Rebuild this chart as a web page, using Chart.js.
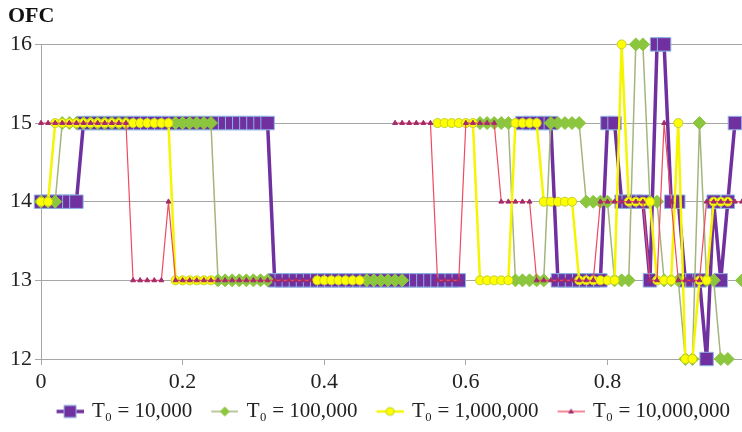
<!DOCTYPE html>
<html>
<head>
<meta charset="utf-8">
<script src="https://cdn.jsdelivr.net/npm/chart.js@4"></script>
<style>
  html, body { margin: 0; padding: 0; background: #fff; }
  #wrap { width: 742px; height: 432px; }
</style>
</head>
<body>
<div id="wrap"><canvas id="ofcChart" width="742" height="432"></canvas></div>
<script>
// x positions of the samples
const xValues = [
  0.00, 0.01, 0.02, 0.03, 0.04, 0.05, 0.06, 0.07, 0.08, 0.09,
  0.10, 0.11, 0.12, 0.13, 0.14, 0.15, 0.16, 0.17, 0.18, 0.19,
  0.20, 0.21, 0.22, 0.23, 0.24, 0.25, 0.26, 0.27, 0.28, 0.29,
  0.30, 0.31, 0.32, 0.33, 0.34, 0.35, 0.36, 0.37, 0.38, 0.39,
  0.40, 0.41, 0.42, 0.43, 0.44, 0.45, 0.46, 0.47, 0.48, 0.49,
  0.50, 0.51, 0.52, 0.53, 0.54, 0.55, 0.56, 0.57, 0.58, 0.59,
  0.60, 0.61, 0.62, 0.63, 0.64, 0.65, 0.66, 0.67, 0.68, 0.69,
  0.70, 0.71, 0.72, 0.73, 0.74, 0.75, 0.76, 0.77, 0.78, 0.79,
  0.80, 0.81, 0.82, 0.83, 0.84, 0.85, 0.86, 0.87, 0.88, 0.89,
  0.90, 0.91, 0.92, 0.93, 0.94, 0.95, 0.96, 0.97, 0.98, 0.99
];

const ofcT10k = [
  14, 14, 14, 14, 14, 14, 15, 15, 15, 15,
  15, 15, 15, 15, 15, 15, 15, 15, 15, 15,
  15, 15, 15, 15, 15, 15, 15, 15, 15, 15,
  15, 15, 15, 13, 13, 13, 13, 13, 13, 13,
  13, 13, 13, 13, 13, 13, 13, 13, 13, 13,
  13, 13, 13, 13, 13, 13, 13, 13, 13, 13,
  null, null, null, null, null, null, null, null, 15, 15,
  15, 15, 15, 13, 13, 13, 13, 13, 13, 13,
  15, 15, 14, 14, 14, 14, 13, 16, 16, 14,
  14, 13, 13, 13, 12, 14, 13, 14, 15, null
];

const ofcT100k = [
  14, 14, 14, 15, 15, 15, 15, 15, 15, 15,
  15, 15, 15, null, null, null, null, null, null, 15,
  15, 15, 15, 15, 15, 13, 13, 13, 13, 13,
  13, 13, 13, null, null, null, null, null, null, null,
  null, null, null, null, null, null, 13, 13, 13, 13,
  13, 13, null, null, null, null, null, null, null, null,
  null, null, 15, 15, 15, 15, 15, 13, 13, 13,
  13, 13, 15, 15, 15, 15, 15, 14, 14, 14,
  14, 13, 13, 13, 16, 16, 14, 14, 13, 13,
  13, 12, 12, 15, 13, 13, 12, 12, null, 13
];

const ofcT1m = [
  14, 14, 15, 15, 15, 15, 15, 15, 15, 15,
  15, 15, 15, 15, 15, 15, 15, 15, 15, 13,
  13, 13, 13, 13, 13, null, null, null, null, null,
  null, null, null, null, null, null, null, null, null, 13,
  13, 13, 13, 13, 13, 13, null, null, null, null,
  null, null, null, null, null, null, 15, 15, 15, 15,
  15, 15, 13, 13, 13, 13, 13, 15, 15, 15,
  15, 14, 14, 14, 14, 14, 13, 13, 13, 13,
  13, 13, 16, 14, 14, 14, 14, 13, 13, 13,
  15, 12, 12, 13, 13, 14, 14, 14, null, null
];

const ofcT10m = [
  15, 15, 15, 15, 15, 15, 15, 15, 15, 15,
  15, 15, 15, 13, 13, 13, 13, 13, 14, 13,
  13, 13, 13, 13, 13, 13, 13, 13, 13, 13,
  13, 13, 13, 13, 13, 13, 13, 13, 13, null,
  null, null, null, null, null, null, null, null, null, null,
  15, 15, 15, 15, 15, 15, 13, 13, 13, 13,
  15, 15, 15, 15, 15, 14, 14, 14, 14, 14,
  13, 13, 13, 13, 13, 13, 13, 13, 13, 14,
  14, 14, 14, 14, 14, 14, 13, 13, 15, 14,
  13, 13, 13, 13, 14, 14, 14, 14, 14, 14
];

const seriesNames = ['T\u2080 = 10,000', 'T\u2080 = 100,000', 'T\u2080 = 1,000,000', 'T\u2080 = 10,000,000'];
const yTicks = [12, 13, 14, 15, 16];

const serif = "'Liberation Serif', 'Times New Roman', serif";

// legend icons: a short line with the marker in the middle, like the Excel legend
function makeIcon(lineColor, lineWidth, drawMarker) {
  const c = document.createElement('canvas');
  c.width = 36;
  c.height = 20;
  const g = c.getContext('2d');
  g.strokeStyle = lineColor;
  g.lineWidth = lineWidth;
  g.beginPath();
  g.moveTo(9, 10);
  g.lineTo(36, 10);
  g.stroke();
  drawMarker(g, 22.5, 10);
  return c;
}

const icons = [
  makeIcon('#7030a0', 3.5, (g, x, y) => {
    g.fillStyle = '#7030a0';
    g.fillRect(x - 6, y - 6, 12, 12);
    g.strokeStyle = '#8eb4e3';
    g.lineWidth = 1;
    g.strokeRect(x - 6, y - 6, 12, 12);
  }),
  makeIcon('#a4b57c', 1.5, (g, x, y) => {
    g.fillStyle = '#8cc63f';
    g.beginPath();
    g.moveTo(x - 5, y); g.lineTo(x, y - 5); g.lineTo(x + 5, y); g.lineTo(x, y + 5);
    g.closePath();
    g.fill();
  }),
  makeIcon('#f5f500', 2.5, (g, x, y) => {
    g.fillStyle = '#ffff00';
    g.strokeStyle = '#c3cf2a';
    g.lineWidth = 1;
    g.beginPath();
    g.arc(x, y, 4, 0, Math.PI * 2);
    g.fill();
    g.stroke();
  }),
  makeIcon('#ee4a60', 1.3, (g, x, y) => {
    g.fillStyle = '#a02c6c';
    g.beginPath();
    g.moveTo(x, y - 3); g.lineTo(x + 3, y + 2); g.lineTo(x - 3, y + 2);
    g.closePath();
    g.fill();
  })
];

const toPoints = ys => ys.map((y, i) => ({ x: xValues[i], y: y }));

new Chart(document.getElementById('ofcChart'), {
  type: 'line',
  data: {
    datasets: [{
      label: seriesNames[0],
      data: toPoints(ofcT10k),
      borderColor: '#7030a0',
      borderWidth: 3.5,
      pointStyle: 'rect',
      pointRadius: 9.5,
      pointBackgroundColor: '#7030a0',
      pointBorderColor: '#8eb4e3',
      pointBorderWidth: 1,
      order: 4
    }, {
      label: seriesNames[1],
      data: toPoints(ofcT100k),
      borderColor: '#a4b57c',
      borderWidth: 1.5,
      pointStyle: 'rectRot',
      pointRadius: 6.5,
      pointBackgroundColor: '#8cc63f',
      pointBorderColor: '#8cc63f',
      pointBorderWidth: 1,
      order: 3
    }, {
      label: seriesNames[2],
      data: toPoints(ofcT1m),
      borderColor: '#f5f500',
      borderWidth: 2.5,
      pointStyle: 'circle',
      pointRadius: 4.5,
      pointBackgroundColor: '#ffff00',
      pointBorderColor: '#c3cf2a',
      pointBorderWidth: 1,
      order: 2
    }, {
      label: seriesNames[3],
      data: toPoints(ofcT10m),
      borderColor: '#ee4a60',
      borderWidth: 1.2,
      pointStyle: 'triangle',
      pointRadius: 2.8,
      pointBackgroundColor: '#a02c6c',
      pointBorderColor: '#a02c6c',
      pointBorderWidth: 1,
      order: 1
    }]
  },
  options: {
    responsive: false,
    animation: false,
    events: [],
    spanGaps: false,
    layout: { autoPadding: false, padding: { left: 8, right: 0, top: 0, bottom: 0 } },
    elements: { line: { tension: 0 } },
    datasets: { line: { clip: false } },
    scales: {
      x: {
        type: 'linear',
        min: 0,
        max: 0.99,
        afterFit: scale => {
          scale.height = 30;
          scale.paddingRight = 0;
          scale.paddingLeft = 0;
        },
        ticks: {
          stepSize: 0.2,
          includeBounds: false,
          padding: 4,
          color: '#222',
          font: { family: serif, size: 22 },
          callback: v => v === 0 ? '0' : String(Math.round(v * 10) / 10)
        },
        grid: { drawOnChartArea: false, drawTicks: true, tickLength: 6, color: '#a6a6a6' },
        border: { display: true, color: '#a6a6a6' }
      },
      y: {
        min: 12,
        max: 16,
        afterFit: scale => { scale.width = 33; },
        afterBuildTicks: scale => { scale.ticks = yTicks.map(v => ({ value: v })); },
        ticks: {
          padding: 3,
          color: '#222',
          font: { family: serif, size: 22 }
        },
        grid: { color: '#a6a6a6', tickLength: 6 },
        border: { display: true, color: '#a6a6a6' }
      }
    },
    plugins: {
      title: {
        display: true,
        text: 'OFC',
        align: 'start',
        color: '#111',
        font: { family: serif, size: 22, weight: 'bold' },
        padding: { top: 3, bottom: 15 }
      },
      legend: {
        position: 'bottom',
        align: 'end',
        labels: {
          color: '#222',
          font: { family: serif, size: 21 },
          usePointStyle: true,
          pointStyleWidth: 32,
          padding: 12,
          sort: (a, b) => a.datasetIndex - b.datasetIndex,
          generateLabels: chart => {
            const items = Chart.defaults.plugins.legend.labels.generateLabels(chart);
            items.forEach(it => { it.pointStyle = icons[it.datasetIndex]; });
            return items;
          }
        }
      },
      tooltip: { enabled: false }
    }
  }
});
</script>
</body>
</html>
